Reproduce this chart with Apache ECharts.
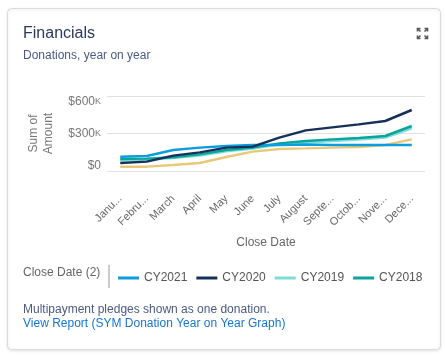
<!DOCTYPE html>
<html>
<head>
<meta charset="utf-8">
<script src="https://cdn.jsdelivr.net/npm/echarts@6/dist/echarts.min.js"></script>
<style>
html,body{margin:0;padding:0;background:#fff;}
#chart{width:445px;height:356px;}
</style>
</head>
<body>
<div id="chart"></div>
<script>
// ---- data ----
const months = ['January','February','March','April','May','June','July','August','September','October','November','December'];
const cy2021 = [114000,120000,168000,187000,200000,208000,208000,212000,208000,208000,208000,208000];
const cy2020 = [64000,75000,123000,149000,187000,195000,267000,325000,349000,373000,400000,488000];
const cy2019 = [86000,90000,104000,124000,158000,180000,212000,228000,240000,252000,267000,341000];
const cy2018 = [96000,99000,110000,133000,168000,187000,221000,240000,253000,264000,280000,360000];
const cy2017 = [35000,35000,48000,64000,112000,155000,176000,181000,187000,192000,208000,253000];
const yTicks = [0,300000,600000];
const legendNames = ['CY2021','CY2020','CY2019','CY2018'];

const chart = echarts.init(document.getElementById('chart'), null, {renderer:'canvas'});
const font = 'Arial, "Liberation Sans", sans-serif';
const mctx = document.createElement('canvas').getContext('2d');
mctx.font = '11px ' + font;
function fitLabel(s){
  const limit = 38.8;
  if (mctx.measureText(s).width <= limit) return s;
  let n = s.length - 1;
  while (n > 1 && mctx.measureText(s.slice(0,n) + '...').width > limit) n--;
  return s.slice(0,n) + '...';
}
function mk(name, data, color){
  return {name, type:'line', data, symbol:'none', smooth:false,
    lineStyle:{width:2.5, color}, itemStyle:{color}, emphasis:{disabled:true}};
}
const arrow = (pts)=>({type:'polyline', shape:{points:pts}, style:{stroke:'#555', lineWidth:1.6, fill:null}});
chart.setOption({
  animation:false,
  textStyle:{fontFamily:font},
  graphic:[
    {type:'rect', shape:{x:7.5,y:8.5,width:433,height:341,r:4}, style:{fill:'#fff', stroke:'#dcdcdc', lineWidth:1, shadowBlur:3, shadowColor:'rgba(0,0,0,0.12)', shadowOffsetY:1}, z:-10},
    {type:'text', left:23, top:26, style:{text:'Financials', font:'16px '+font, fill:'#2b3a5a'}},
    {type:'text', left:23, top:50, style:{text:'Donations, year on year', font:'12px '+font, fill:'#4a5b80'}},
    {type:'group', left:415, top:26, children:[
      arrow([[0,3],[0,0],[3,0]]), arrow([[0,0],[3,3]]),
      arrow([[7,0],[10,0],[10,3]]), arrow([[10,0],[7,3]]),
      arrow([[0,7],[0,10],[3,10]]), arrow([[0,10],[3,7]]),
      arrow([[7,10],[10,10],[10,7]]), arrow([[10,10],[7,7]])
    ]},
    {type:'text', left:23, top:267, style:{text:'Close Date (2)', font:'12px '+font, fill:'#666'}},
    {type:'rect', shape:{x:108,y:265,width:2,height:23}, style:{fill:'#ccc'}},
    {type:'text', left:23, top:304, style:{text:'Multipayment pledges shown as one donation.', font:'12px '+font, fill:'#4a5b80'}},
    {type:'text', left:23, top:318, style:{text:'View Report (SYM Donation Year on Year Graph)', font:'12px '+font, fill:'#1a74cc'}}
  ],
  grid:{left:107, right:20, top:96, bottom:185, containLabel:false},
  legend:{
    data:legendNames, left:113, top:267, icon:'rect', itemWidth:21, itemHeight:3, itemGap:9,
    textStyle:{fontSize:12, color:'#555', fontFamily:font}, selectedMode:false
  },
  xAxis:{
    type:'category', data:months, boundaryGap:true,
    axisLine:{show:false}, axisTick:{show:false},
    name:'Close Date', nameLocation:'middle', nameGap:66,
    nameTextStyle:{fontSize:12, color:'#666'},
    axisLabel:{rotate:45, interval:0, fontSize:11, color:'#666', margin:26, formatter:fitLabel}
  },
  yAxis:{
    type:'value', min:0, max:600000, interval:300000,
    name:'Sum of\nAmount', nameLocation:'middle', nameGap:51, nameRotate:90,
    nameTextStyle:{fontSize:12, color:'#777', lineHeight:15},
    axisLine:{show:false}, axisTick:{show:false},
    splitLine:{lineStyle:{color:'#e0e0e0', width:1}},
    axisLabel:{
      fontSize:12, color:'#777', margin:6,
      formatter:function(v){
        if(v===yTicks[0]) return '{b|$0}';
        const s = '$'+(v/1000);
        return v===yTicks[2] ? '{t|'+s+'}{tk|K}' : '{m|'+s+'}{mk|K}';
      },
      rich:{
        t:{fontSize:12, color:'#777', padding:[11,0,0,0]},
        tk:{fontSize:9, color:'#777', padding:[11,0,0,0]},
        m:{fontSize:12, color:'#777'},
        mk:{fontSize:9, color:'#777'},
        b:{fontSize:12, color:'#777', padding:[0,0,11,0]}
      }
    }
  },
  series:[
    mk('CY2017', cy2017, '#e8c97a'),
    mk('CY2019', cy2019, '#7fdcd4'),
    mk('CY2018', cy2018, '#0aa59a'),
    mk('CY2021', cy2021, '#0b9ddd'),
    mk('CY2020', cy2020, '#16305a')
  ]
});
</script>
</body>
</html>
